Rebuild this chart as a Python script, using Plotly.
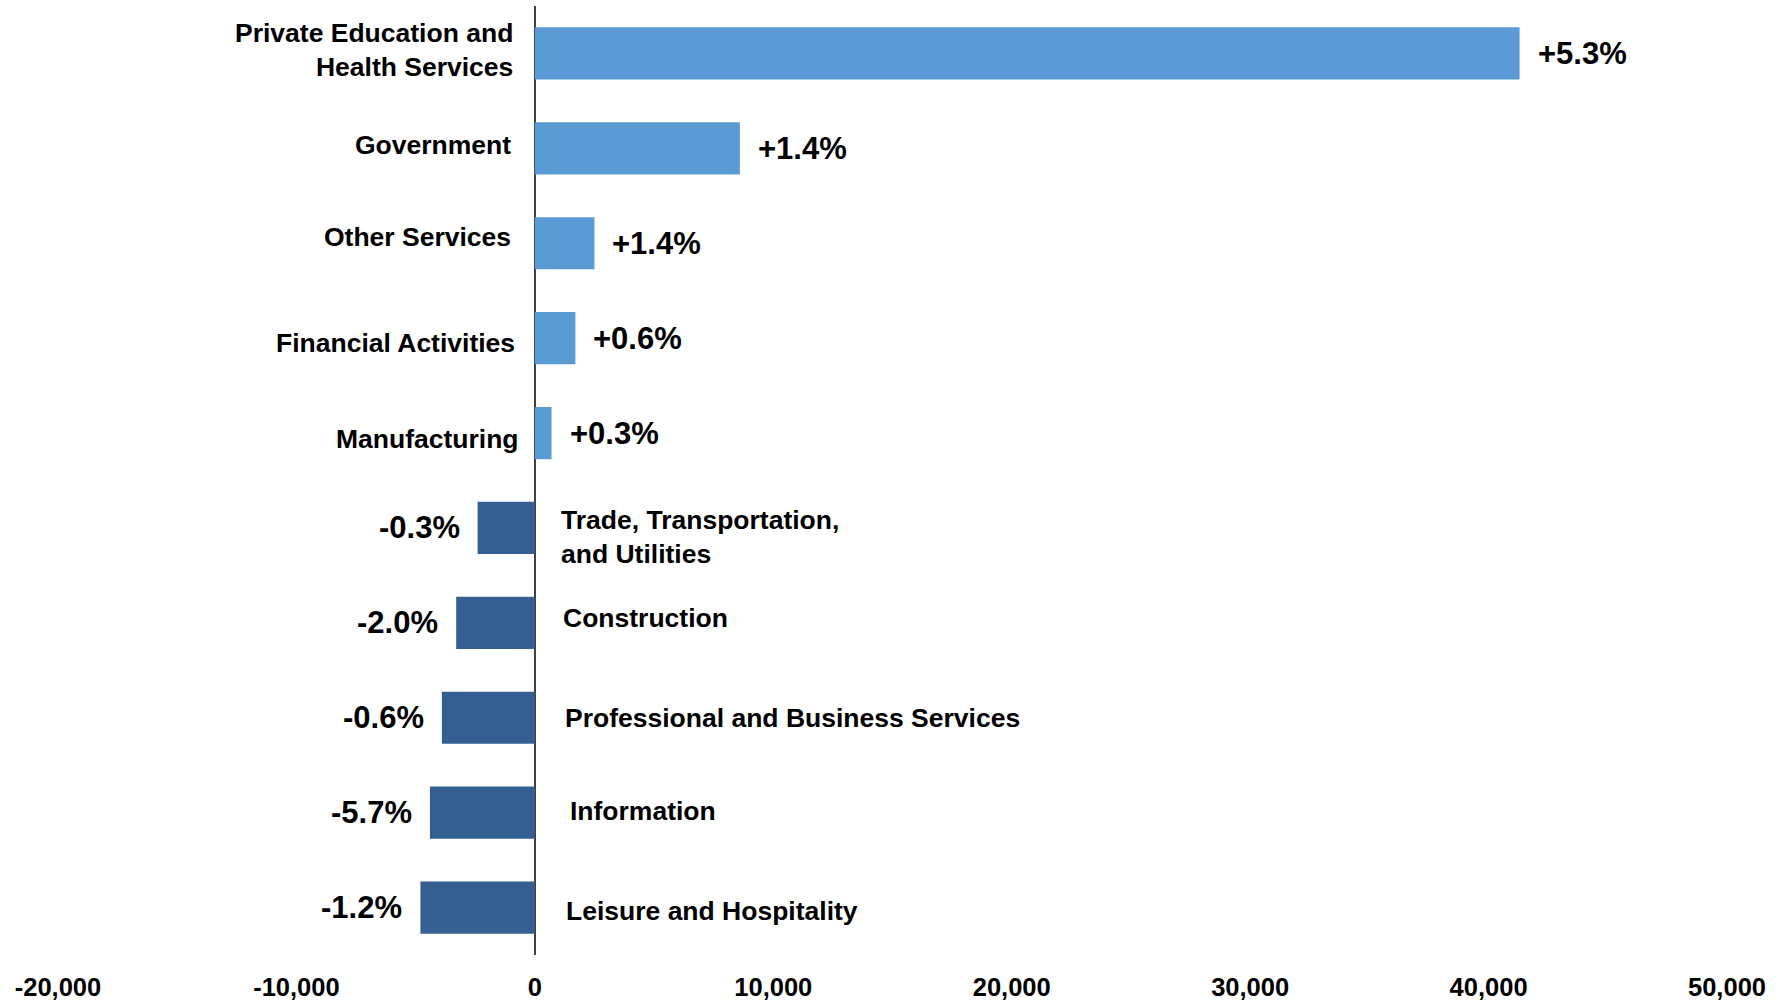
import plotly.graph_objects as go

# Job change by industry (number of jobs) with percent change labels
industries = [
    "Private Education and<br>Health Services",
    "Government",
    "Other Services",
    "Financial Activities",
    "Manufacturing",
    "Trade, Transportation,<br>and Utilities",
    "Construction",
    "Professional and Business Services",
    "Information",
    "Leisure and Hospitality",
]
job_change = [41300, 8600, 2500, 1700, 700, -2400, -3300, -3900, -4400, -4800]
pct_labels = ["+5.3%", "+1.4%", "+1.4%", "+0.6%", "+0.3%",
              "-0.3%", "-2.0%", "-0.6%", "-5.7%", "-1.2%"]
tick_vals = [-20000, -10000, 0, 10000, 20000, 30000, 40000, 50000]
tick_text = ["-20,000", "-10,000", "0", "10,000", "20,000", "30,000", "40,000", "50,000"]

POS_COLOR = "#5B9BD5"
NEG_COLOR = "#355F91"
FONT = "Liberation Sans, Arial, sans-serif"

# hand-placed offsets (pixels) for the industry name labels
NAME_NUDGE = [(0, 3), (-2, 3), (-2, 6), (2, -5), (6, -6),
              (-2, -9), (0, 5), (2, 0), (7, 2), (3, -3)]

colors = [POS_COLOR if v >= 0 else NEG_COLOR for v in job_change]

fig = go.Figure(
    go.Bar(
        x=job_change,
        y=industries,
        orientation="h",
        marker=dict(color=colors, line=dict(width=0)),
        width=0.55,
        hoverinfo="x+y",
    )
)

annotations = []
for name, val, pct, (dx, dy) in zip(industries, job_change, pct_labels, NAME_NUDGE):
    positive = val >= 0
    # percent label just beyond the end of the bar
    annotations.append(dict(
        x=val, y=name, xref="x", yref="y",
        text=f"<b>{pct}</b>",
        showarrow=False,
        xanchor="left" if positive else "right",
        xshift=16 if positive else -16,
        font=dict(family=FONT, size=31, color="black"),
    ))
    # industry name on the opposite side of the zero line
    annotations.append(dict(
        x=0, y=name, xref="x", yref="y",
        text=f"<b>{name}</b>",
        showarrow=False,
        xanchor="right" if positive else "left",
        align="right" if positive else "left",
        xshift=(-20 if positive else 26) + dx,
        yshift=dy,
        font=dict(family=FONT, size=26.5, color="black"),
    ))

fig.update_layout(
    width=1789,
    height=1003,
    margin=dict(l=58, r=62, t=6, b=48),
    paper_bgcolor="white",
    plot_bgcolor="white",
    showlegend=False,
    annotations=annotations,
    xaxis=dict(
        range=[-20000, 50000],
        tickvals=tick_vals,
        ticktext=[f"<b>{t}</b>" for t in tick_text],
        tickfont=dict(family=FONT, size=25.5, color="black"),
        showgrid=False,
        showline=False,
        zeroline=True,
        zerolinecolor="#404040",
        zerolinewidth=1.5,
        ticks="",
        ticklabelstandoff=14,
        automargin=False,
    ),
    yaxis=dict(
        autorange="reversed",
        showticklabels=False,
        showgrid=False,
        showline=False,
        zeroline=False,
        ticks="",
        automargin=False,
    ),
)

fig.write_html("out.html")
